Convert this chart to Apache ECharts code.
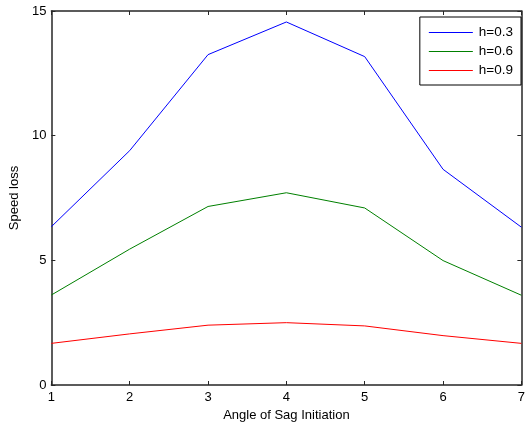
<!DOCTYPE html>
<html>
<head>
<meta charset="utf-8">
<script src="https://cdn.jsdelivr.net/npm/echarts@6/dist/echarts.min.js"></script>
<style>
  html, body { margin: 0; padding: 0; background: #fff; }
  #chart { width: 528px; height: 427px; }
</style>
</head>
<body>
<div id="chart"></div>
<script>
// Angle positions along the x axis
const angles = [1, 2, 3, 4, 5, 6, 7];

// Speed loss for each sag depth h
const lossH03 = [6.35, 9.4, 13.25, 14.56, 13.17, 8.65, 6.33];
const lossH06 = [3.61, 5.45, 7.16, 7.71, 7.1, 4.99, 3.6];
const lossH09 = [1.67, 2.05, 2.4, 2.5, 2.37, 1.98, 1.67];

const seriesNames = ['h=0.3', 'h=0.6', 'h=0.9'];
const seriesColors = ['#0000ff', '#008000', '#ff0000'];
const seriesValues = [lossH03, lossH06, lossH09];

const FONT = 'Liberation Sans, Arial, Helvetica, sans-serif';
const AXIS_COLOR = '#262626';

const chart = echarts.init(document.getElementById('chart'), null, { renderer: 'canvas' });

// Box-style frame: ticks pointing inward on all four sides
function frameAxis(extra) {
  return Object.assign({
    type: 'value',
    axisLine: { show: true, onZero: false, lineStyle: { color: AXIS_COLOR, width: 1.5 } },
    axisTick: { show: true, inside: true, length: 4, lineStyle: { color: AXIS_COLOR, width: 1 } },
    splitLine: { show: false }
  }, extra);
}

chart.setOption({
  animation: false,
  backgroundColor: '#fff',
  textStyle: { fontFamily: FONT },
  grid: { left: 50, right: 3, top: 11, bottom: 42, containLabel: false },
  legend: {
    right: 7,
    top: 17,
    orient: 'vertical',
    data: seriesNames,
    icon: 'rect',
    backgroundColor: '#fff',
    borderColor: '#000',
    borderWidth: 1,
    borderRadius: 0,
    padding: [8, 8, 7, 9],
    itemGap: 4,
    itemWidth: 44,
    itemHeight: 1,
    textStyle: { fontFamily: FONT, fontSize: 13.5, lineHeight: 15, color: '#000', padding: [0, 0, 0, 1] }
  },
  xAxis: [
    frameAxis({
      min: 1, max: 7, interval: 1,
      position: 'bottom',
      name: 'Angle of Sag Initiation',
      nameLocation: 'middle',
      nameGap: 18,
      nameTextStyle: { fontFamily: FONT, fontSize: 13, color: '#000' },
      axisLabel: { show: true, margin: 6, fontFamily: FONT, fontSize: 13, color: '#000' }
    }),
    frameAxis({
      min: 1, max: 7, interval: 1,
      position: 'top',
      axisLabel: { show: false }
    })
  ],
  yAxis: [
    frameAxis({
      min: 0, max: 15, interval: 5,
      position: 'left',
      name: 'Speed loss',
      nameLocation: 'middle',
      nameGap: 29,
      nameTextStyle: { fontFamily: FONT, fontSize: 13, color: '#000' },
      axisLabel: { show: true, margin: 5, fontFamily: FONT, fontSize: 13, color: '#000' }
    }),
    frameAxis({
      min: 0, max: 15, interval: 5,
      position: 'right',
      axisLabel: { show: false }
    })
  ],
  series: seriesNames.map((name, i) => ({
    name: name,
    type: 'line',
    xAxisIndex: 0,
    yAxisIndex: 0,
    data: angles.map((a, j) => [a, seriesValues[i][j]]),
    symbol: 'none',
    lineStyle: { color: seriesColors[i], width: 1 },
    itemStyle: { color: seriesColors[i] }
  }))
});
</script>
</body>
</html>
